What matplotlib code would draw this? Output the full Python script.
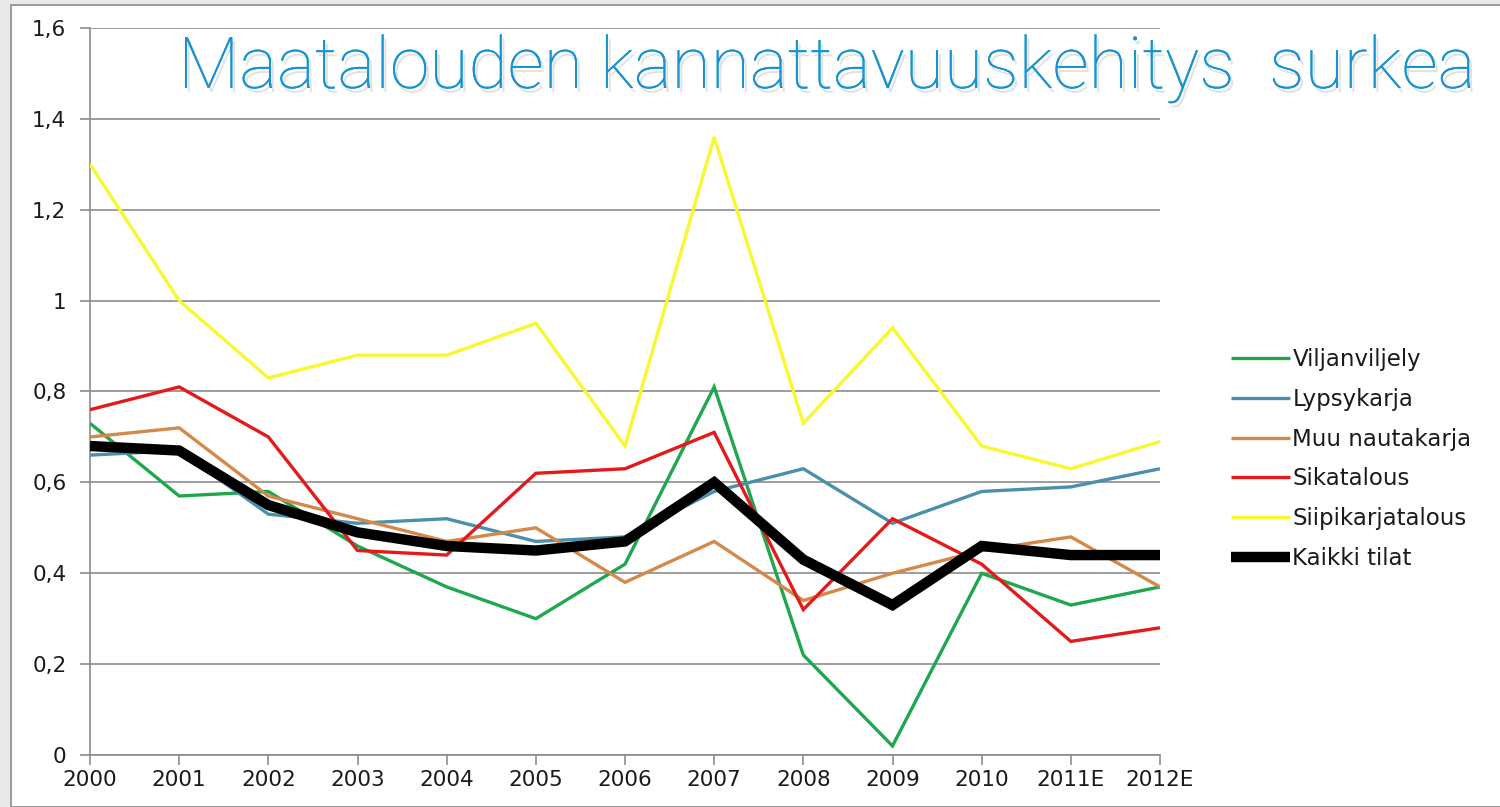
import matplotlib
matplotlib.use("Agg")
import matplotlib.pyplot as plt
from matplotlib.patches import Rectangle
import matplotlib.patheffects as pe

years = ["2000", "2001", "2002", "2003", "2004", "2005", "2006", "2007",
         "2008", "2009", "2010", "2011E", "2012E"]
viljanviljely = [0.73, 0.57, 0.58, 0.46, 0.37, 0.30, 0.42, 0.81, 0.22, 0.02, 0.40, 0.33, 0.37]
lypsykarja = [0.66, 0.67, 0.53, 0.51, 0.52, 0.47, 0.48, 0.58, 0.63, 0.51, 0.58, 0.59, 0.63]
muu_nautakarja = [0.70, 0.72, 0.57, 0.52, 0.47, 0.50, 0.38, 0.47, 0.34, 0.40, 0.45, 0.48, 0.37]
sikatalous = [0.76, 0.81, 0.70, 0.45, 0.44, 0.62, 0.63, 0.71, 0.32, 0.52, 0.42, 0.25, 0.28]
siipikarjatalous = [1.30, 1.00, 0.83, 0.88, 0.88, 0.95, 0.68, 1.36, 0.73, 0.94, 0.68, 0.63, 0.69]
kaikki_tilat = [0.68, 0.67, 0.55, 0.49, 0.46, 0.45, 0.47, 0.60, 0.43, 0.33, 0.46, 0.44, 0.44]
yticks = [0, 0.2, 0.4, 0.6, 0.8, 1.0, 1.2, 1.4, 1.6]
ytick_labels = ["0", "0,2", "0,4", "0,6", "0,8", "1", "1,2", "1,4", "1,6"]
title = "Maatalouden kannattavuuskehitys  surkea"

W, H = 1500, 807
fig = plt.figure(figsize=(W / 100, H / 100), dpi=100, facecolor="#e9e9e9")
frame = Rectangle((11 / W, 0.0), 1 - 11 / W + 0.01, 1 - 5 / H,
                  transform=fig.transFigure, facecolor="white",
                  edgecolor="#8a8a8a", linewidth=1.2, zorder=-10)
fig.patches.append(frame)

ax = fig.add_axes([90 / W, 1 - 755 / H, (1160 - 90) / W, (755 - 28) / H])
ax.set_facecolor("none")
x = list(range(len(years)))

series = [
    ("Viljanviljely", viljanviljely, "#1fa64f", 2.4),
    ("Lypsykarja", lypsykarja, "#4a90ab", 2.4),
    ("Muu nautakarja", muu_nautakarja, "#d3894a", 2.4),
    ("Sikatalous", sikatalous, "#e31a1c", 2.4),
    ("Siipikarjatalous", siipikarjatalous, "#f8f830", 2.4),
    ("Kaikki tilat", kaikki_tilat, "#000000", 7.5),
]
for name, vals, col, lw in series:
    ax.plot(x, vals, color=col, lw=lw, label=name, solid_joinstyle="miter",
            solid_capstyle="butt", zorder=3)

ax.set_xlim(0, 12)
ax.set_ylim(0, 1.6)
ax.set_yticks(yticks)
ax.set_yticklabels(ytick_labels)
ax.set_xticks(x)
ax.set_xticklabels(years)
ax.yaxis.grid(True, color="#8c8c8c", lw=1.2)
ax.set_axisbelow(True)
for s in ["top", "right"]:
    ax.spines[s].set_visible(False)
for s in ["left", "bottom"]:
    ax.spines[s].set_color("#8c8c8c")
    ax.spines[s].set_linewidth(1.2)
ax.tick_params(axis="both", colors="#8c8c8c", length=7, width=1.2,
               labelsize=15.5, labelcolor="#1a1a1a")
ax.tick_params(axis="y", pad=10)
ax.tick_params(axis="x", pad=4)
for lab in ax.get_xticklabels() + ax.get_yticklabels():
    lab.set_fontfamily("DejaVu Sans")

leg = fig.legend(loc="upper left", bbox_to_anchor=(1210 / W, 1 - 327 / H),
                 frameon=False, handlelength=2.6,
                 handletextpad=0.1, labelspacing=0.74,
                 prop={"family": "DejaVu Sans", "size": 16.5})
for t in leg.get_texts():
    t.set_color("#1a1a1a")

fig.text(178 / W, 1 - 88 / H, title, fontsize=51.5, color="#1693d0",
         family=["Roboto", "DejaVu Sans"], fontweight="light",
         ha="left", va="baseline",
         path_effects=[pe.withSimplePatchShadow(offset=(2, -3), shadow_rgbFace="#aaaaaa", alpha=0.35),
                       pe.Normal()])

fig.savefig("out.png", dpi=100, facecolor=fig.get_facecolor())
